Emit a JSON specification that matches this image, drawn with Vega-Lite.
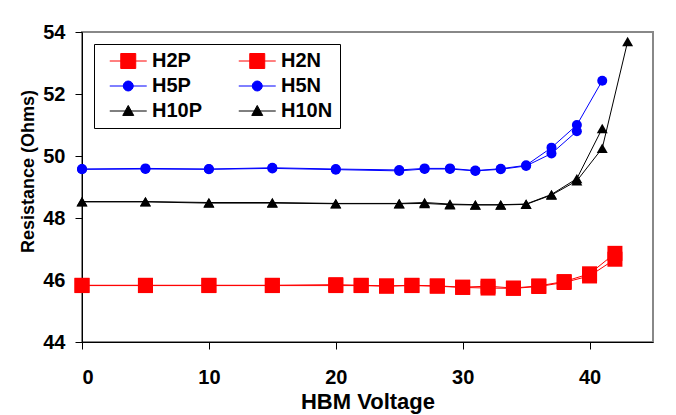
{
  "$schema": "https://vega.github.io/schema/vega-lite/v6.json",
  "width": 571,
  "height": 310,
  "autosize": {"type": "none"},
  "padding": {"left": 82, "top": 32, "right": 23, "bottom": 73},
  "background": "#ffffff",
  "config": {
    "font": "Liberation Sans",
    "view": {"stroke": "#888888", "strokeWidth": 2},
    "axis": {
      "domainColor": "#000000", "domainWidth": 1, "tickColor": "#000000", "tickSize": 7, "tickWidth": 1,
      "grid": false, "labelFont": "Liberation Sans", "labelFontSize": 20, "labelFontWeight": "bold", "labelColor": "#000000",
      "titleFont": "Liberation Sans", "titleFontWeight": "bold", "titleColor": "#000000"
    }
  },
  "data": {"values": [
    {"series": "H2P", "v": 0, "r": 45.83}, {"series": "H2P", "v": 5, "r": 45.83}, {"series": "H2P", "v": 10, "r": 45.83}, {"series": "H2P", "v": 15, "r": 45.83},
    {"series": "H2P", "v": 20, "r": 45.85}, {"series": "H2P", "v": 22, "r": 45.83}, {"series": "H2P", "v": 24, "r": 45.81}, {"series": "H2P", "v": 26, "r": 45.83},
    {"series": "H2P", "v": 28, "r": 45.81}, {"series": "H2P", "v": 30, "r": 45.77}, {"series": "H2P", "v": 32, "r": 45.8}, {"series": "H2P", "v": 34, "r": 45.74},
    {"series": "H2P", "v": 36, "r": 45.81}, {"series": "H2P", "v": 38, "r": 45.95}, {"series": "H2P", "v": 40, "r": 46.2}, {"series": "H2P", "v": 42, "r": 46.86},
    {"series": "H2N", "v": 0, "r": 45.82}, {"series": "H2N", "v": 5, "r": 45.82}, {"series": "H2N", "v": 10, "r": 45.82}, {"series": "H2N", "v": 15, "r": 45.82},
    {"series": "H2N", "v": 20, "r": 45.82}, {"series": "H2N", "v": 22, "r": 45.82}, {"series": "H2N", "v": 24, "r": 45.8}, {"series": "H2N", "v": 26, "r": 45.82},
    {"series": "H2N", "v": 28, "r": 45.8}, {"series": "H2N", "v": 30, "r": 45.76}, {"series": "H2N", "v": 32, "r": 45.74}, {"series": "H2N", "v": 34, "r": 45.73},
    {"series": "H2N", "v": 36, "r": 45.79}, {"series": "H2N", "v": 38, "r": 45.92}, {"series": "H2N", "v": 40, "r": 46.13}, {"series": "H2N", "v": 42, "r": 46.67},
    {"series": "H5P", "v": 0, "r": 49.58}, {"series": "H5P", "v": 5, "r": 49.6}, {"series": "H5P", "v": 10, "r": 49.58}, {"series": "H5P", "v": 15, "r": 49.62},
    {"series": "H5P", "v": 20, "r": 49.58}, {"series": "H5P", "v": 25, "r": 49.55}, {"series": "H5P", "v": 27, "r": 49.6}, {"series": "H5P", "v": 29, "r": 49.6},
    {"series": "H5P", "v": 31, "r": 49.53}, {"series": "H5P", "v": 33, "r": 49.59}, {"series": "H5P", "v": 35, "r": 49.7}, {"series": "H5P", "v": 37, "r": 50.27},
    {"series": "H5P", "v": 39, "r": 51.0}, {"series": "H5P", "v": 41, "r": 52.43},
    {"series": "H5N", "v": 0, "r": 49.57}, {"series": "H5N", "v": 5, "r": 49.58}, {"series": "H5N", "v": 10, "r": 49.57}, {"series": "H5N", "v": 15, "r": 49.6},
    {"series": "H5N", "v": 20, "r": 49.56}, {"series": "H5N", "v": 25, "r": 49.52}, {"series": "H5N", "v": 27, "r": 49.58}, {"series": "H5N", "v": 29, "r": 49.58},
    {"series": "H5N", "v": 31, "r": 49.52}, {"series": "H5N", "v": 33, "r": 49.57}, {"series": "H5N", "v": 35, "r": 49.68}, {"series": "H5N", "v": 37, "r": 50.08},
    {"series": "H5N", "v": 39, "r": 50.8},
    {"series": "H10P", "v": 0, "r": 48.53}, {"series": "H10P", "v": 5, "r": 48.53}, {"series": "H10P", "v": 10, "r": 48.5}, {"series": "H10P", "v": 15, "r": 48.5},
    {"series": "H10P", "v": 20, "r": 48.47}, {"series": "H10P", "v": 25, "r": 48.47}, {"series": "H10P", "v": 27, "r": 48.5}, {"series": "H10P", "v": 29, "r": 48.45},
    {"series": "H10P", "v": 31, "r": 48.43}, {"series": "H10P", "v": 33, "r": 48.43}, {"series": "H10P", "v": 35, "r": 48.45}, {"series": "H10P", "v": 37, "r": 48.76},
    {"series": "H10P", "v": 39, "r": 49.27}, {"series": "H10P", "v": 41, "r": 50.89},
    {"series": "H10N", "v": 0, "r": 48.52}, {"series": "H10N", "v": 5, "r": 48.52}, {"series": "H10N", "v": 10, "r": 48.48}, {"series": "H10N", "v": 15, "r": 48.48},
    {"series": "H10N", "v": 20, "r": 48.46}, {"series": "H10N", "v": 25, "r": 48.46}, {"series": "H10N", "v": 27, "r": 48.47}, {"series": "H10N", "v": 29, "r": 48.43},
    {"series": "H10N", "v": 31, "r": 48.42}, {"series": "H10N", "v": 33, "r": 48.42}, {"series": "H10N", "v": 35, "r": 48.44}, {"series": "H10N", "v": 37, "r": 48.74},
    {"series": "H10N", "v": 39, "r": 49.2}, {"series": "H10N", "v": 41, "r": 50.25}, {"series": "H10N", "v": 43, "r": 53.69}
  ]},
  "encoding": {
    "x": {"field": "v", "type": "quantitative", "scale": {"domain": [0, 45], "nice": false, "zero": false},
      "axis": {"values": [0, 10, 20, 30, 40], "title": "HBM Voltage", "titleFontSize": 22, "labelPadding": 18, "titleBaseline": "alphabetic", "titleY": 66}},
    "y": {"field": "r", "type": "quantitative", "scale": {"domain": [44, 54], "nice": false, "zero": false},
      "axis": {"values": [44, 46, 48, 50, 52, 54], "title": "Resistance (Ohms)", "titleFontSize": 18, "labelPadding": 10, "titleBaseline": "alphabetic", "titleX": -49, "titleY": 139, "titleAlign": "center"}},
    "color": {"field": "series", "type": "nominal",
      "scale": {"domain": ["H2P", "H2N", "H5P", "H5N", "H10P", "H10N"], "range": ["#ff0000", "#ff0000", "#0000ff", "#0000ff", "#000000", "#000000"]},
      "legend": {
        "orient": "none", "legendX": 12, "legendY": 12, "columns": 2, "direction": "horizontal", "title": null,
        "labelFont": "Liberation Sans", "labelFontSize": 20, "labelFontWeight": "bold", "labelColor": "#000000",
        "symbolSize": 342, "symbolStrokeWidth": 1, "symbolOpacity": 1,
        "labelOffset": 31, "columnPadding": 27, "rowPadding": 5, "padding": 7,
        "strokeColor": "#000000", "fillColor": "#ffffff",
        "encode": {"symbols": {"enter": {
          "shape": {"signal": "indexof(['H2P','H2N'], datum.value) >= 0 ? 'M-0.135,0H3.865M1.055,-0.81H2.675V0.81H1.055Z' : (indexof(['H5P','H5N'], datum.value) >= 0 ? 'M-0.135,0H3.865M2.405,0A0.54,0.54 0 1,1 1.325,0A0.54,0.54 0 1,1 2.405,0Z' : 'M-0.135,0H3.865M1.865,-0.6L2.46,0.48H1.27Z')"},
          "fill": {"scale": "color", "field": "value"},
          "stroke": {"scale": "color", "field": "value"},
          "strokeWidth": {"value": 1},
          "opacity": {"value": 1}
        }, "update": {
          "shape": {"signal": "indexof(['H2P','H2N'], datum.value) >= 0 ? 'M-0.135,0H3.865M1.055,-0.81H2.675V0.81H1.055Z' : (indexof(['H5P','H5N'], datum.value) >= 0 ? 'M-0.135,0H3.865M2.405,0A0.54,0.54 0 1,1 1.325,0A0.54,0.54 0 1,1 2.405,0Z' : 'M-0.135,0H3.865M1.865,-0.6L2.46,0.48H1.27Z')"},
          "fill": {"scale": "color", "field": "value"},
          "stroke": {"scale": "color", "field": "value"},
          "strokeWidth": {"value": 1},
          "opacity": {"value": 1}
        }}}
      }}
  },
  "layer": [
    {"mark": {"type": "line", "strokeWidth": 1}},
    {"transform": [{"filter": {"field": "series", "oneOf": ["H2P", "H2N"]}}],
      "mark": {"type": "point", "shape": "square", "filled": true, "opacity": 1, "size": 225}},
    {"transform": [{"filter": {"field": "series", "oneOf": ["H5P", "H5N"]}}],
      "mark": {"type": "point", "shape": "circle", "filled": true, "opacity": 1, "size": 100}},
    {"transform": [{"filter": {"field": "series", "oneOf": ["H10P", "H10N"]}}],
      "mark": {"type": "point", "shape": "triangle-up", "filled": true, "opacity": 1, "size": 120}}
  ]
}
